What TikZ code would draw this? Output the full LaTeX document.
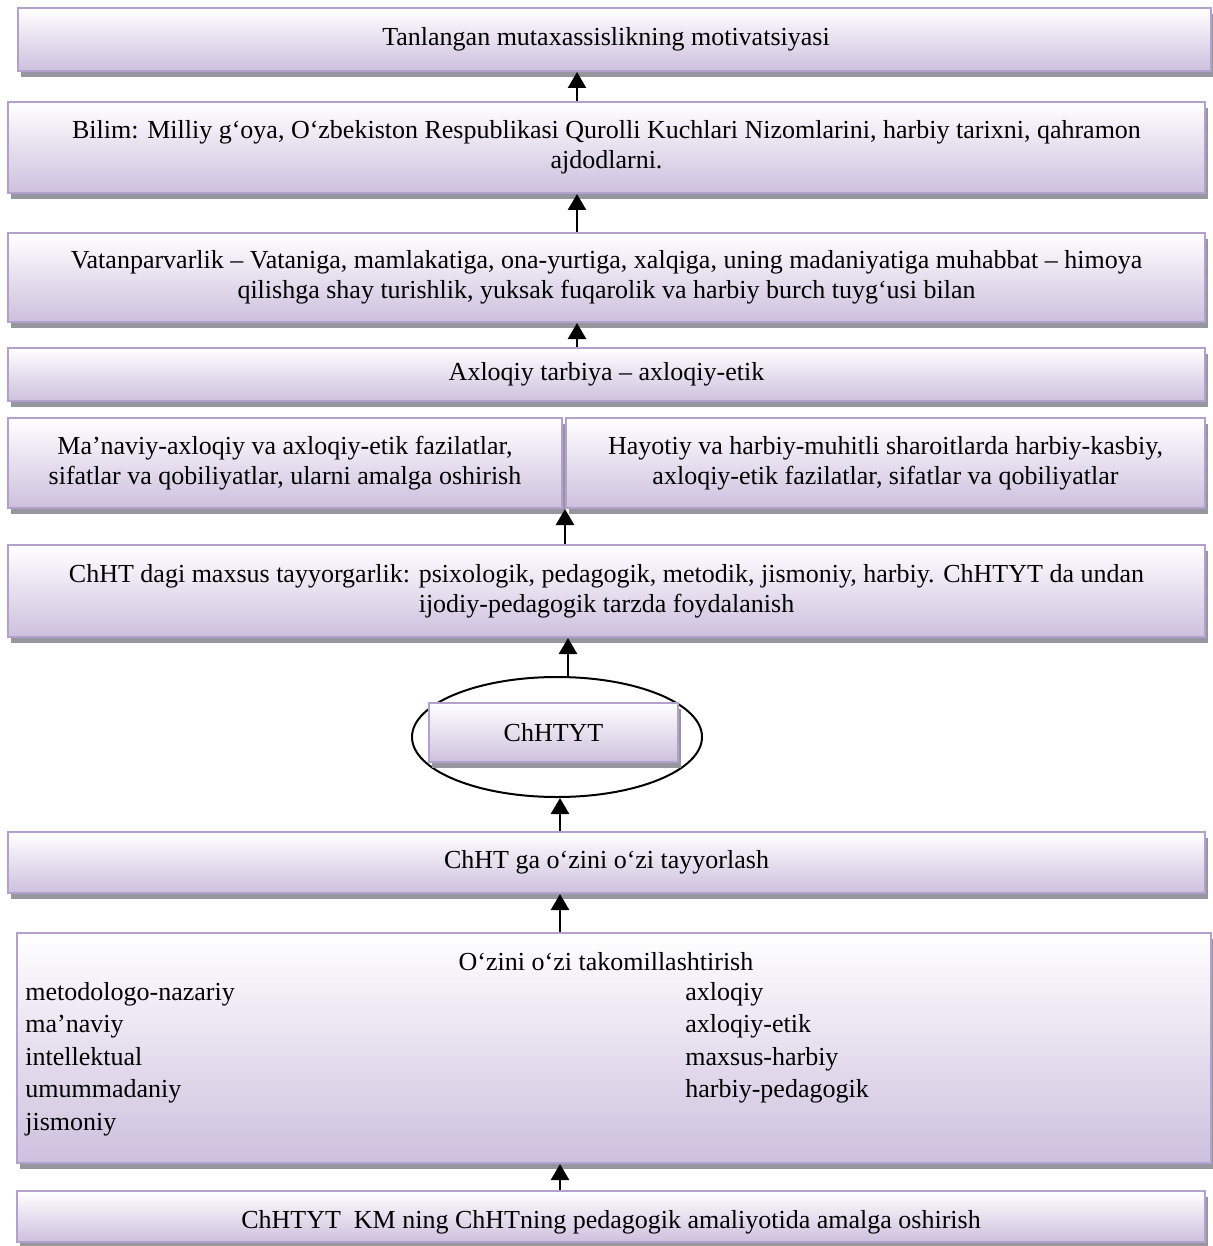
\documentclass[tikz,border=0pt]{standalone}
\usepackage{fontspec}
\setmainfont{Liberation Serif}
\usepackage{xcolor}
\usepackage{tikz}
\usetikzlibrary{positioning, calc, arrows.meta, shadows, shapes.geometric}
\definecolor{ptEdge}{RGB}{180, 160, 205}
\definecolor{ptLow}{RGB}{205, 192, 222}
\definecolor{ptShadow}{RGB}{150, 150, 158}
\tikzset{
    base/.style={
        font=\fontsize{13}{15}\selectfont,
        align=center
    },
    stage/.style={
        base,
        rectangle,
        draw=ptEdge,
        line width=1pt,
        top color=white,
        bottom color=ptLow,
        inner sep=0pt,
        drop shadow={fill=ptShadow, opacity=1, shadow xshift=1.5pt, shadow yshift=-3pt}
    },
    ring/.style={
        ellipse,
        draw=black,
        line width=1pt,
        inner sep=0pt
    },
    item/.style={
        base,
        anchor=base west,
        inner sep=0pt
    },
    flow/.style={
        -{Triangle[width=9pt, length=8pt]},
        line width=1.3pt,
        color=black
    }
}

\begin{document}
\begin{tikzpicture}[x=0.5pt, y=-0.5pt]
  \useasboundingbox (0,0) rectangle (1212,1246);

  % Upper chain
  \node[stage, minimum width=596.5pt, minimum height=31.5pt] (motiv) at (614.5,39.5)
    {\hspace*{-8.5pt}Tanlangan mutaxassislikning motivatsiyasi};
  \node[stage, minimum width=598.5pt, minimum height=45.5pt] (bilim) at (606.5,147.5)
    {Bilim: Milliy g‘oya, O‘zbekiston Respublikasi Qurolli Kuchlari Nizomlarini, harbiy tarixni, qahramon\\ ajdodlarni.};
  \node[stage, minimum width=598.5pt, minimum height=44.5pt] (vatan) at (606.5,277.5)
    {Vatanparvarlik – Vataniga, mamlakatiga, ona-yurtiga, xalqiga, uning madaniyatiga muhabbat – himoya\\ qilishga shay turishlik, yuksak fuqarolik va harbiy burch tuyg‘usi bilan};
  \node[stage, minimum width=598.5pt, minimum height=26.5pt] (axloq) at (606.5,374.5)
    {Axloqiy tarbiya – axloqiy-etik};
  \node[stage, minimum width=277pt, minimum height=45pt] (fazL) at (285,463)
    {Ma’naviy-axloqiy va axloqiy-etik fazilatlar,\\ sifatlar va qobiliyatlar, ularni amalga oshirish};
  \node[stage, minimum width=319.5pt, minimum height=45pt] (fazR) at (885.5,463)
    {Hayotiy va harbiy-muhitli sharoitlarda harbiy-kasbiy,\\ axloqiy-etik fazilatlar, sifatlar va qobiliyatlar};
  \node[stage, minimum width=598.5pt, minimum height=46pt] (maxsus) at (606.5,591)
    {ChHT dagi maxsus tayyorgarlik: psixologik, pedagogik, metodik, jismoniy, harbiy. ChHTYT da undan\\ ijodiy-pedagogik tarzda foydalanish};

  % Core
  \node[ring, minimum width=145pt, minimum height=60pt] (oval) at (557,737) {};
  \node[stage, minimum width=124.5pt, minimum height=29.5pt] (core) at (553.5,732.5) {ChHTYT};

  % Lower chain
  \node[stage, minimum width=598.5pt, minimum height=30.5pt] (tayyor) at (606.5,862.5)
    {ChHT ga o‘zini o‘zi tayyorlash};
  \node[stage, minimum width=597pt, minimum height=115pt] (takom) at (614,1048) {};
  \node[base, inner sep=0pt] (takomT) at (606,962) {O‘zini o‘zi takomillashtirish};
  \foreach \txt [count=\i] in {metodologo-nazariy, ma’naviy, intellektual, umummadaniy, jismoniy}
    \node[item] (left\i) at (25,967.5+32.5*\i) {\txt};
  \foreach \txt [count=\i] in {axloqiy, axloqiy-etik, maxsus-harbiy, harbiy-pedagogik}
    \node[item] (right\i) at (685,967.5+32.5*\i) {\txt};
  \node[stage, minimum width=594pt, minimum height=25.5pt, text height=14.5pt, text depth=3pt] (amal) at (611,1216.5)
    {ChHTYT\ \ KM ning ChHTning pedagogik amaliyotida amalga oshirish};

  % Arrows
  \draw[flow] ([xshift=-14.75pt]bilim.north) -- ([xshift=-18.75pt]motiv.south);
  \draw[flow] ([xshift=-14.75pt]vatan.north) -- ([xshift=-14.75pt]bilim.south);
  \draw[flow] ([xshift=-14.75pt]axloq.north) -- ([xshift=-14.75pt]vatan.south);
  \draw[flow] (maxsus.north -| fazR.west) -- (fazR.south west);
  \draw[flow] ([xshift=5.5pt]oval.north) -- ([xshift=-19.25pt]maxsus.south);
  \draw[flow] ([xshift=-23.25pt]tayyor.north) -- ([xshift=1.5pt]oval.south);
  \draw[flow] ([xshift=-27pt]takom.north) -- ([xshift=-23.25pt]tayyor.south);
  \draw[flow] ([xshift=-25.5pt]amal.north) -- ([xshift=-27pt]takom.south);
\end{tikzpicture}
\end{document}
